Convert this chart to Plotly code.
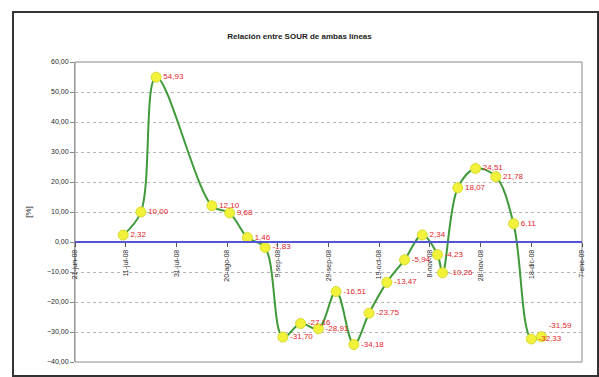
import plotly.graph_objects as go

# Weekly SOUR ratio between both lines (%)
fechas = [
    "2008-07-10", "2008-07-17", "2008-07-23", "2008-08-14", "2008-08-21",
    "2008-08-28", "2008-09-04", "2008-09-11", "2008-09-18", "2008-09-25",
    "2008-10-02", "2008-10-09", "2008-10-15", "2008-10-22", "2008-10-29",
    "2008-11-05", "2008-11-11", "2008-11-13", "2008-11-19", "2008-11-26",
    "2008-12-04", "2008-12-11", "2008-12-18", "2008-12-22",
]
relacion = [
    2.32, 10.00, 54.93, 12.10, 9.68,
    1.46, -1.83, -31.70, -27.16, -28.91,
    -16.51, -34.18, -23.75, -13.47, -5.94,
    2.34, -4.23, -10.26, 18.07, 24.51,
    21.78, 6.11, -32.33, -31.59,
]

tick_fechas = [
    "2008-06-21", "2008-07-11", "2008-07-31", "2008-08-20", "2008-09-09",
    "2008-09-29", "2008-10-19", "2008-11-08", "2008-11-28", "2008-12-18",
    "2009-01-07",
]
tick_textos = [
    "21-jun-08", "11-jul-08", "31-jul-08", "20-ago-08", "9-sep-08",
    "29-sep-08", "19-oct-08", "8-nov-08", "28-nov-08", "18-dic-08",
    "7-ene-09",
]

y_min, y_max = -40, 60

# plot area in pixels (for placing the outer frame in paper units)
W, H = 599, 377
L, R, T, B = 75, 17, 62, 15
pw, ph = W - L - R, H - T - B


def px_x(x):
    return (x - L) / pw


def px_y(y):
    return (H - B - y) / ph


# labels sit to the right of each point; the last one is lifted so the two
# December labels do not collide
posiciones = ["middle right"] * len(relacion)
posiciones[-1] = "top right"

fig = go.Figure()
fig.add_trace(go.Scatter(
    x=fechas, y=relacion,
    mode="lines+markers+text",
    line=dict(color="#3f9a3a", width=2, shape="spline", smoothing=1.0),
    marker=dict(size=10, color="#f2f23a", line=dict(color="#d6dc30", width=1)),
    texttemplate="%{y:.2f}",
    textposition=posiciones,
    textfont=dict(family="Liberation Sans, Arial, sans-serif", size=8, color="#e3242b"),
    cliponaxis=False,
    showlegend=False,
))

fig.update_layout(
    width=W, height=H,
    margin=dict(l=L, r=R, t=T, b=B),
    paper_bgcolor="white",
    plot_bgcolor="white",
    separators=",.",
    font=dict(family="Liberation Sans, Arial, sans-serif", color="#333333"),
    title=dict(
        text="<b>Relación entre SOUR de ambas líneas</b>",
        x=0.5, xanchor="center",
        y=1 - 36 / H, yanchor="middle", yref="container",
        font=dict(size=8, color="#222222"),
    ),
    xaxis=dict(
        type="date",
        range=[tick_fechas[0], tick_fechas[-1]],
        tickvals=tick_fechas,
        ticktext=tick_textos,
        tickangle=-90,
        tickfont=dict(size=7, color="#2a2a2a"),
        ticks="outside", ticklen=4, tickcolor="#555555",
        showgrid=False,
        showline=True, linecolor="#5355d6", linewidth=2,
        anchor="free",
        position=(0 - y_min) / (y_max - y_min),
        automargin=False,
        zeroline=False,
    ),
    yaxis=dict(
        range=[y_min, y_max],
        dtick=10,
        tickformat=".2f",
        tickfont=dict(size=7, color="#2a2a2a"),
        ticks="outside", ticklen=4, tickcolor="#888888",
        showgrid=True, gridcolor="#b4b4b4", griddash="dot", gridwidth=1,
        showline=True, linecolor="#9a9a9a", linewidth=1,
        zeroline=False,
        title=dict(text="[%]", font=dict(size=8, color="#222222"), standoff=14),
        automargin=False,
    ),
    shapes=[
        # plot area border
        dict(type="rect", xref="paper", yref="paper", x0=0, x1=1, y0=0, y1=1,
             line=dict(color="#8a8a8a", width=1), layer="below"),
        # outer chart frame
        dict(type="rect", xref="paper", yref="paper",
             x0=px_x(13), x1=px_x(598), y0=px_y(376), y1=px_y(12),
             line=dict(color="#333333", width=2), layer="below"),
    ],
)

fig.write_html("out.html")
